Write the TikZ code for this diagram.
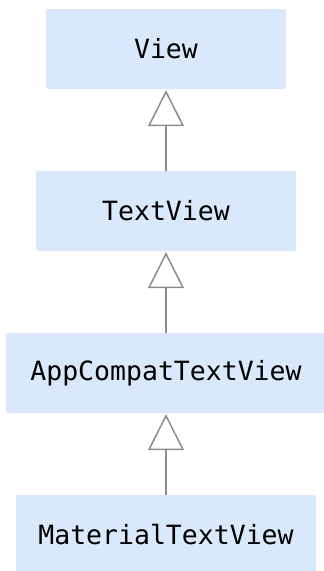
\documentclass[tikz,border=0pt]{standalone}
\usepackage{fontspec}
\setmonofont{DejaVu Sans Mono}
\usetikzlibrary{arrows.meta}
\definecolor{boxfill}{HTML}{DAE8FC}
\definecolor{linkgray}{HTML}{8C8C8C}
\tikzset{
  classbox/.style={rectangle, rounded corners=2pt, fill=boxfill, draw=none,
    minimum height=80pt, inner sep=0pt, text=black,
    font=\ttfamily\fontsize{26.5pt}{30pt}\selectfont},
  inherits/.style={draw=linkgray, line width=1.5pt,
    -{Triangle[open, length=36pt, width=36pt, line width=1.5pt]}, shorten >=1pt}
}
\begin{document}
\begin{tikzpicture}[x=1pt, y=-1pt]
  \useasboundingbox (0,0) rectangle (324,571);
  \clip (0,0) rectangle (324,571);
  \node[classbox, minimum width=240pt] (view) at (166,49) {View};
  \node[classbox, minimum width=260pt] (textview) at (166,211) {TextView};
  \node[classbox, minimum width=320pt] (appcompat) at (166,373) {AppCompatTextView};
  \node[classbox, minimum width=300pt] (material) at (166,535) {MaterialTextView};
  \draw[inherits] (textview.north) -- (view.south);
  \draw[inherits] (appcompat.north) -- (textview.south);
  \draw[inherits] (material.north) -- (appcompat.south);
\end{tikzpicture}
\end{document}
